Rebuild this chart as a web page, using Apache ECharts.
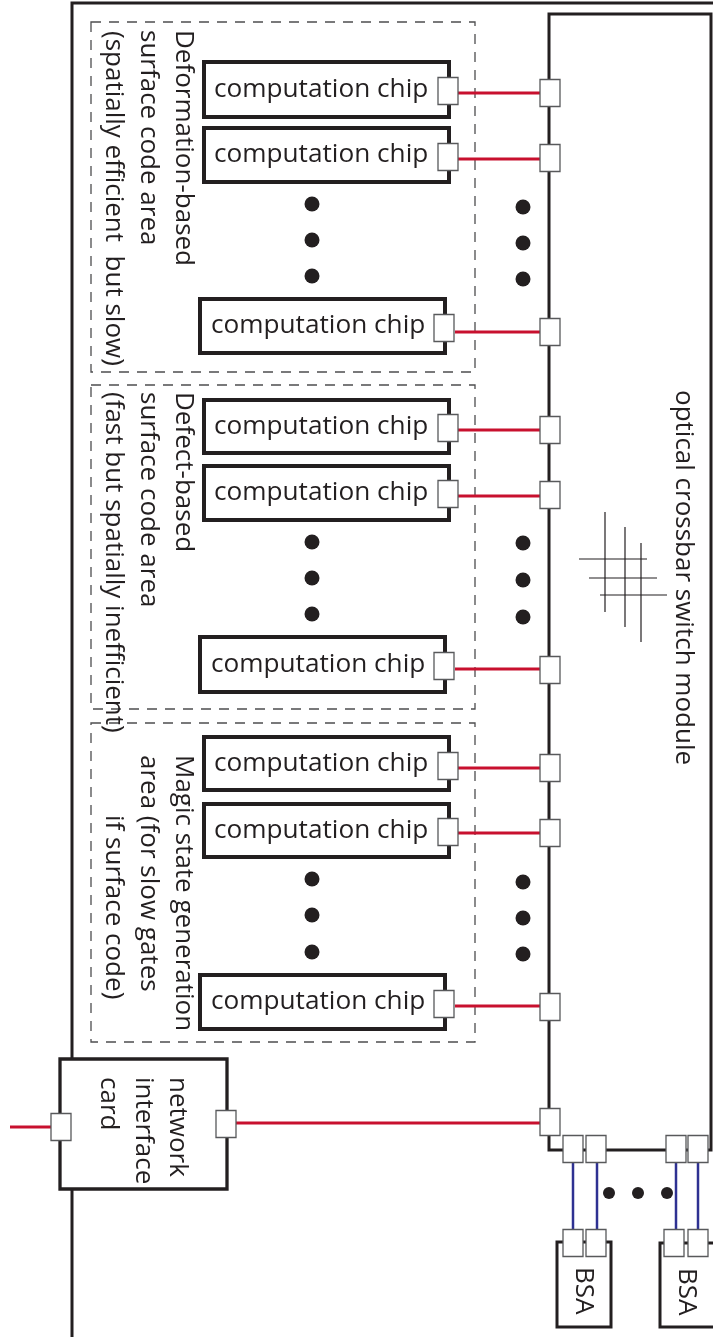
<!DOCTYPE html>
<html>
<head>
<meta charset="utf-8">
<script src="https://cdn.jsdelivr.net/npm/echarts@6/dist/echarts.min.js"></script>
<style>
  html, body { margin: 0; padding: 0; background: #fff; }
  #main { width: 713px; height: 1337px; }
</style>
</head>
<body>
<div id="main"></div>
<script>
// the diagram lives on a hidden value grid measured in picture pixels (y runs down)

// outlines
const frameLine = [[72, 1337], [72, 3], [713, 3]];
const moduleBox = [[549, 14, 711, 1150]];
const areaBoxes = [[91, 22, 475, 372], [91, 385, 475, 709], [91, 723, 475, 1042]];
const chipBoxes = [
  [204, 62, 449, 117], [204, 128, 449, 182], [200, 299, 445, 353],
  [204, 400, 449, 453], [204, 466, 449, 520], [200, 637, 445, 692],
  [204, 737, 449, 790], [204, 804, 449, 857], [200, 975, 445, 1029]
];
const nicBox = [[60, 1059, 227, 1189]];
const bsaBoxes = [[557, 1242, 611, 1327], [660, 1243, 722, 1327]];

// ports (centres)
const chipPorts = [[448, 91], [448, 157], [444, 328], [448, 428], [448, 494], [444, 666], [448, 766], [448, 832], [444, 1004]];
const modulePorts = [[550, 93], [550, 158], [550, 332], [550, 430], [550, 495], [550, 670], [550, 768], [550, 833], [550, 1007], [550, 1122]];
const nicPorts = [[61, 1127], [226, 1124]];
const moduleBottomPorts = [[573, 1149], [596, 1149], [676, 1149], [698, 1149]];
const bsaPorts = [[573, 1243], [596, 1243], [674, 1243], [698, 1243]];

// links
const fiberLinks = [
  [[458, 93], [540, 93]], [[458, 159], [540, 159]], [[455, 332], [540, 332]],
  [[458, 430], [540, 430]], [[458, 496], [540, 496]], [[455, 669], [540, 669]],
  [[458, 768], [540, 768]], [[458, 833], [540, 833]], [[455, 1006], [540, 1006]],
  [[236, 1123], [540, 1123]], [[10, 1127], [51, 1127]]
];
const bsaLinks = [[[573, 1163], [573, 1229]], [[597, 1163], [597, 1229]], [[676, 1163], [676, 1229]], [[698, 1163], [698, 1229]]];
const crossbarLines = [
  [[605, 512], [605, 612]], [[625, 527], [625, 627]], [[641, 543], [641, 642]],
  [[579, 559], [647, 559]], [[589, 578], [657, 578]], [[600, 595], [667, 595]]
];

// ellipsis dots
const ellipsisDots = [
  [312, 204], [312, 240], [312, 276], [523, 207], [523, 243], [523, 279],
  [312, 542], [312, 578], [312, 614], [523, 543], [523, 580], [523, 617],
  [312, 879], [312, 915], [312, 952], [523, 882], [523, 918], [523, 954]
];
const bsaDots = [[609, 1193], [638, 1193], [667, 1193]];

// texts
const chipLabel = 'computation chip';
const chipLabelPos = [[214, 90], [214, 155], [211, 326], [214, 427], [214, 493], [211, 665], [214, 764], [214, 831], [211, 1002]];
const areaTitles = [
  'Deformation-based', 'surface code area', '(spatially efficient  but slow)',
  'Defect-based', 'surface code area', '(fast but spatially inefficient)',
  'Magic state generation', 'area (for slow gates', 'if surface code)'
];
const areaTitlePos = [[183, 30], [148, 30], [113, 31], [183, 392], [148, 392], [113, 392], [183, 755], [148, 755], [113, 815]];
const sideTexts = ['optical crossbar switch module', 'network', 'interface', 'card', 'BSA', 'BSA'];
const sideTextPos = [[683, 390], [177, 1077], [143, 1077], [108, 1077], [583, 1267], [686, 1268]];

const INK = '#231f20';
const FONT = '"Open Sans", "Noto Sans", sans-serif';

function rectSeries(boxes, style, z) {
  return {
    type: 'custom',
    z: z,
    silent: true,
    data: boxes,
    encode: { x: [0, 2], y: [1, 3] },
    renderItem: function (params, api) {
      const a = api.coord([api.value(0), api.value(1)]);
      const b = api.coord([api.value(2), api.value(3)]);
      return {
        type: 'rect',
        shape: { x: a[0], y: a[1], width: b[0] - a[0], height: b[1] - a[1] },
        style: style
      };
    }
  };
}

function portSeries(centres, z) {
  return {
    type: 'custom',
    z: z,
    silent: true,
    data: centres,
    renderItem: function (params, api) {
      const c = api.coord([api.value(0), api.value(1)]);
      return {
        type: 'rect',
        shape: { x: c[0] - 10, y: c[1] - 13.5, width: 20, height: 27 },
        style: { fill: '#fff', stroke: '#58595b', lineWidth: 1.3 }
      };
    }
  };
}

function lineSeries(segs, color, width, z) {
  return {
    type: 'lines',
    coordinateSystem: 'cartesian2d',
    polyline: true,
    z: z,
    silent: true,
    data: segs.map(function (s) { return { coords: s }; }),
    lineStyle: { color: color, width: width, opacity: 1 }
  };
}

function textSeries(texts, pos, size, rotation, z) {
  return {
    type: 'custom',
    z: z,
    silent: true,
    data: pos,
    renderItem: function (params, api) {
      const p = api.coord([api.value(0), api.value(1)]);
      return {
        type: 'text',
        x: p[0],
        y: p[1],
        rotation: rotation,
        style: {
          text: Array.isArray(texts) ? texts[params.dataIndex] : texts,
          fill: INK,
          fontSize: size,
          fontFamily: FONT,
          align: 'left',
          verticalAlign: 'middle'
        }
      };
    }
  };
}

const chart = echarts.init(document.getElementById('main'), null, { renderer: 'canvas' });

chart.setOption({
  animation: false,
  backgroundColor: '#fff',
  grid: { left: 0, right: 0, top: 0, bottom: 0 },
  xAxis: { type: 'value', min: 0, max: 713, show: false },
  yAxis: { type: 'value', min: 0, max: 1337, inverse: true, show: false },
  series: [
    lineSeries([frameLine], INK, 3, 1),
    rectSeries(areaBoxes, { fill: 'none', stroke: '#4d4d4f', lineWidth: 1.3, lineDash: [10, 8] }, 2),
    rectSeries(moduleBox, { fill: 'none', stroke: INK, lineWidth: 3 }, 2),
    lineSeries(crossbarLines, INK, 1.2, 2),
    lineSeries(fiberLinks, '#c8102e', 3, 3),
    lineSeries(bsaLinks, '#2e3192', 2.5, 3),
    rectSeries(chipBoxes, { fill: '#fff', stroke: INK, lineWidth: 4 }, 4),
    rectSeries(nicBox, { fill: '#fff', stroke: INK, lineWidth: 3.3 }, 4),
    rectSeries(bsaBoxes, { fill: '#fff', stroke: INK, lineWidth: 3 }, 4),
    portSeries(chipPorts, 5),
    portSeries(modulePorts, 5),
    portSeries(nicPorts, 5),
    portSeries(moduleBottomPorts, 5),
    portSeries(bsaPorts, 5),
    {
      type: 'scatter', z: 6, silent: true, data: ellipsisDots,
      symbol: 'circle', symbolSize: 15, itemStyle: { color: INK, opacity: 1 }
    },
    {
      type: 'scatter', z: 6, silent: true, data: bsaDots,
      symbol: 'circle', symbolSize: 12, itemStyle: { color: INK, opacity: 1 }
    },
    textSeries(chipLabel, chipLabelPos, 26.2, 0, 7),
    textSeries(areaTitles, areaTitlePos, 26, -Math.PI / 2, 7),
    textSeries(sideTexts, sideTextPos, 26, -Math.PI / 2, 7)
  ]
});
</script>
</body>
</html>
